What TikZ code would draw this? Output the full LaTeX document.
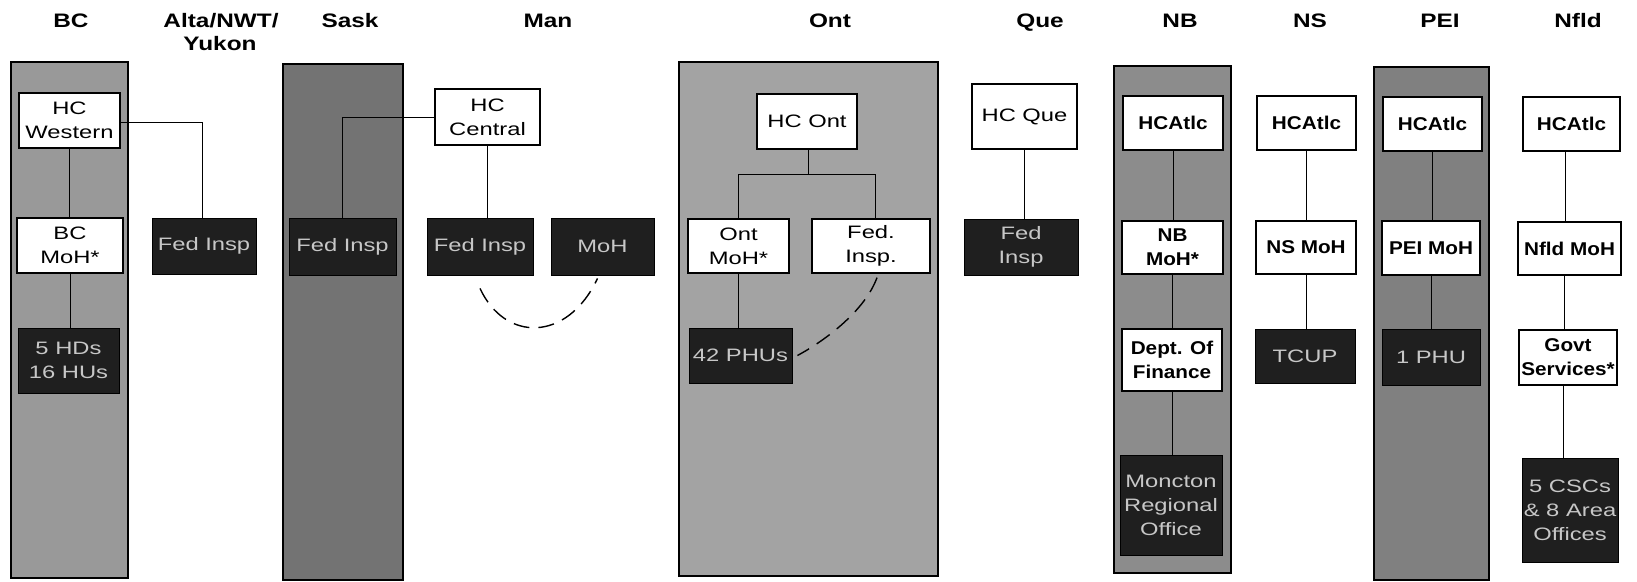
\documentclass[tikz,border=0pt]{standalone}
\usepackage{fontspec}
\usetikzlibrary{calc}
\newfontfamily\regf[FakeStretch=1.32]{Liberation Sans}
\newfontfamily\boldf[FakeStretch=1.12]{Liberation Sans}
\newfontfamily\hdrf[FakeStretch=1.25]{Liberation Sans}
\tikzset{
  wbox/.style={draw, line width=1.2pt, fill=white, inner sep=0pt, align=center,
    font=\regf\fontsize{18}{24}\selectfont},
  wboxb/.style={wbox, font=\boldf\bfseries\fontsize{18.5}{24}\selectfont},
  dbox/.style={draw=black, line width=0.8pt, fill=black!88, text=black!22, inner sep=0pt, align=center,
    font=\regf\fontsize{18}{24}\selectfont},
  conn/.style={line width=0.8pt},
  dconn/.style={line width=1.4pt, dash pattern=on 16pt off 9pt},
  panel/.style={draw, line width=1.2pt},
  hdr/.style={font=\hdrf\bfseries\fontsize{19.5}{22}\selectfont, anchor=base, inner sep=0pt}
}
\begin{document}
\begin{tikzpicture}[x=1pt,y=-1pt]
\useasboundingbox[fill=white] (0,0) rectangle (1637,581);
% panels
\path[panel, fill=black!40] (11,62) rectangle (128,578);
\path[panel, fill=black!55] (283,64) rectangle (403,580);
\path[panel, fill=black!36] (679,62) rectangle (938,576);
\path[panel, fill=black!45] (1114,66) rectangle (1231,573);
\path[panel, fill=black!50] (1374,67) rectangle (1489,580);
% headers
\node[hdr] (hbc) at (71,27) {BC};
\node[hdr] (halta) at (221,27) {Alta/NWT/};
\node[hdr] (hyuk) at (220,50) {Yukon};
\node[hdr] (hsask) at (350,27) {Sask};
\node[hdr] (hman) at (548,27) {Man};
\node[hdr] (hont) at (830,27) {Ont};
\node[hdr] (hque) at (1040,27) {Que};
\node[hdr] (hnb) at (1180,27) {NB};
\node[hdr] (hns) at (1310,27) {NS};
\node[hdr] (hpei) at (1440,27) {PEI};
\node[hdr] (hnf) at (1578,27) {Nfld};
% BC
\node[wbox, minimum width=101pt, minimum height=55pt] (hcw) at (69.5,120.5) {HC\\Western};
\node[wbox, minimum width=106pt, minimum height=55pt] (bcmoh) at (70,245.5) {BC\\MoH*};
\node[dbox, minimum width=101pt, minimum height=65pt] (bchd) at (68.5,360.5) {5 HDs\\16 HUs};
% Alta
\node[dbox, minimum width=104pt, minimum height=56pt] (altafed) at (204,246) {Fed Insp};
% Sask
\node[dbox, minimum width=107pt, minimum height=57pt] (saskfed) at (342.5,246.5) {Fed Insp};
% Man
\node[wbox, minimum width=105pt, minimum height=56pt] (hcc) at (487.5,117) {HC\\Central};
\node[dbox, minimum width=106pt, minimum height=57pt] (manfed) at (480,246.5) {Fed Insp};
\node[dbox, minimum width=103pt, minimum height=57pt] (manmoh) at (602.5,246.5) {MoH};
% Ont
\node[wbox, minimum width=100pt, minimum height=55pt] (hcont) at (807,121.5) {HC Ont};
\node[wbox, minimum width=101pt, minimum height=54pt] (ontmoh) at (738.5,246) {Ont\\MoH*};
\node[wbox, minimum width=118pt, minimum height=54pt] (ontfed) at (871,246) {Fed.\\Insp.};
\node[dbox, minimum width=103pt, minimum height=55pt] (phus) at (740.5,355.5) {42 PHUs};
% Que
\node[wbox, minimum width=105pt, minimum height=65pt] (hcque) at (1024.5,116.5) {HC Que};
\node[dbox, minimum width=114pt, minimum height=56pt] (quefed) at (1021,247) {Fed\\Insp};
% NB
\node[wboxb, minimum width=100pt, minimum height=54pt] (nbhc) at (1173,123) {HCAtlc};
\node[wboxb, minimum width=101pt, minimum height=53pt] (nbmoh) at (1172.5,247.5) {NB\\MoH*};
\node[wboxb, minimum width=100pt, minimum height=62pt] (nbdept) at (1172,360) {Dept. Of\\Finance};
\node[dbox, minimum width=102pt, minimum height=100pt] (nbmon) at (1171,505) {Moncton\\Regional\\Office};
% NS
\node[wboxb, minimum width=99pt, minimum height=54pt] (nshc) at (1306.5,123) {HCAtlc};
\node[wboxb, minimum width=100pt, minimum height=53pt] (nsmoh) at (1306,247.5) {NS MoH};
\node[dbox, minimum width=100pt, minimum height=54pt] (tcup) at (1305,356) {TCUP};
% PEI
\node[wboxb, minimum width=99pt, minimum height=54pt] (peihc) at (1432.5,124) {HCAtlc};
\node[wboxb, minimum width=98pt, minimum height=54pt] (peimoh) at (1431,248) {PEI MoH};
\node[dbox, minimum width=98pt, minimum height=56pt] (phu) at (1431,357) {1 PHU};
% Nfld
\node[wboxb, minimum width=97pt, minimum height=54pt] (nfhc) at (1571.5,124) {HCAtlc};
\node[wboxb, minimum width=103pt, minimum height=53pt] (nfmoh) at (1569.5,248.5) {Nfld MoH};
\node[wboxb, minimum width=98pt, minimum height=55pt] (govt) at (1568,357.5) {Govt\\Services*};
\node[dbox, minimum width=96pt, minimum height=104pt] (cscs) at (1570,510) {5 CSCs\\\& 8 Area\\Offices};
% connectors
\draw[conn] (hcw.south) -- (hcw.south |- bcmoh.north);
\draw[conn] (bcmoh.south) -- (bcmoh.south |- bchd.north);
\draw[conn] ($(hcw.east)+(0,2)$) -| ($(altafed.north)+(-2,0)$);
\draw[conn] (hcc.west) -| (saskfed.north);
\draw[conn] (hcc.south) -- (hcc.south |- manfed.north);
\coordinate (oj) at ($(hcont.south)+(1,25)$);
\draw[conn] (hcont.south -| oj) -- (oj);
\draw[conn] (ontmoh.north) |- (oj) -| ($(ontfed.north)+(4,0)$);
\draw[conn] (ontmoh.south) -- (ontmoh.south |- phus.north);
\draw[conn] (hcque.south) -- (hcque.south |- quefed.north);
\draw[conn] (nbhc.south) -- (nbhc.south |- nbmoh.north);
\draw[conn] (nbmoh.south) -- (nbmoh.south |- nbdept.north);
\draw[conn] (nbdept.south) -- (nbdept.south |- nbmon.north);
\draw[conn] (nshc.south) -- (nshc.south |- nsmoh.north);
\draw[conn] (nsmoh.south) -- (nsmoh.south |- tcup.north);
\draw[conn] (peihc.south) -- (peihc.south |- peimoh.north);
\draw[conn] (peimoh.south) -- (peimoh.south |- phu.north);
\coordinate (nf1) at ($(nfhc.south)+(-6,0)$);
\coordinate (nf2) at ($(nfmoh.south)+(-5,0)$);
\coordinate (nf3) at ($(govt.south)+(-5,0)$);
\draw[conn] (nf1) -- (nf1 |- nfmoh.north);
\draw[conn] (nf2) -- (nf2 |- govt.north);
\draw[conn] (nf3) -- (nf3 |- cscs.north);
% dashed curves
\draw[dconn] ($(manfed.south)+(0,13)$) .. controls ($(manfed.south)+(25,67)$) and ($(manmoh.south)+(-35,67)$) .. ($(manmoh.south)+(-5,3)$);
\draw[dconn] ($(ontfed.south)+(6,4)$) .. controls ($(ontfed.south)+(-6,37)$) and ($(phus.east)+(33,-15)$) .. ($(phus.east)+(5,0)$);
\end{tikzpicture}
\end{document}
